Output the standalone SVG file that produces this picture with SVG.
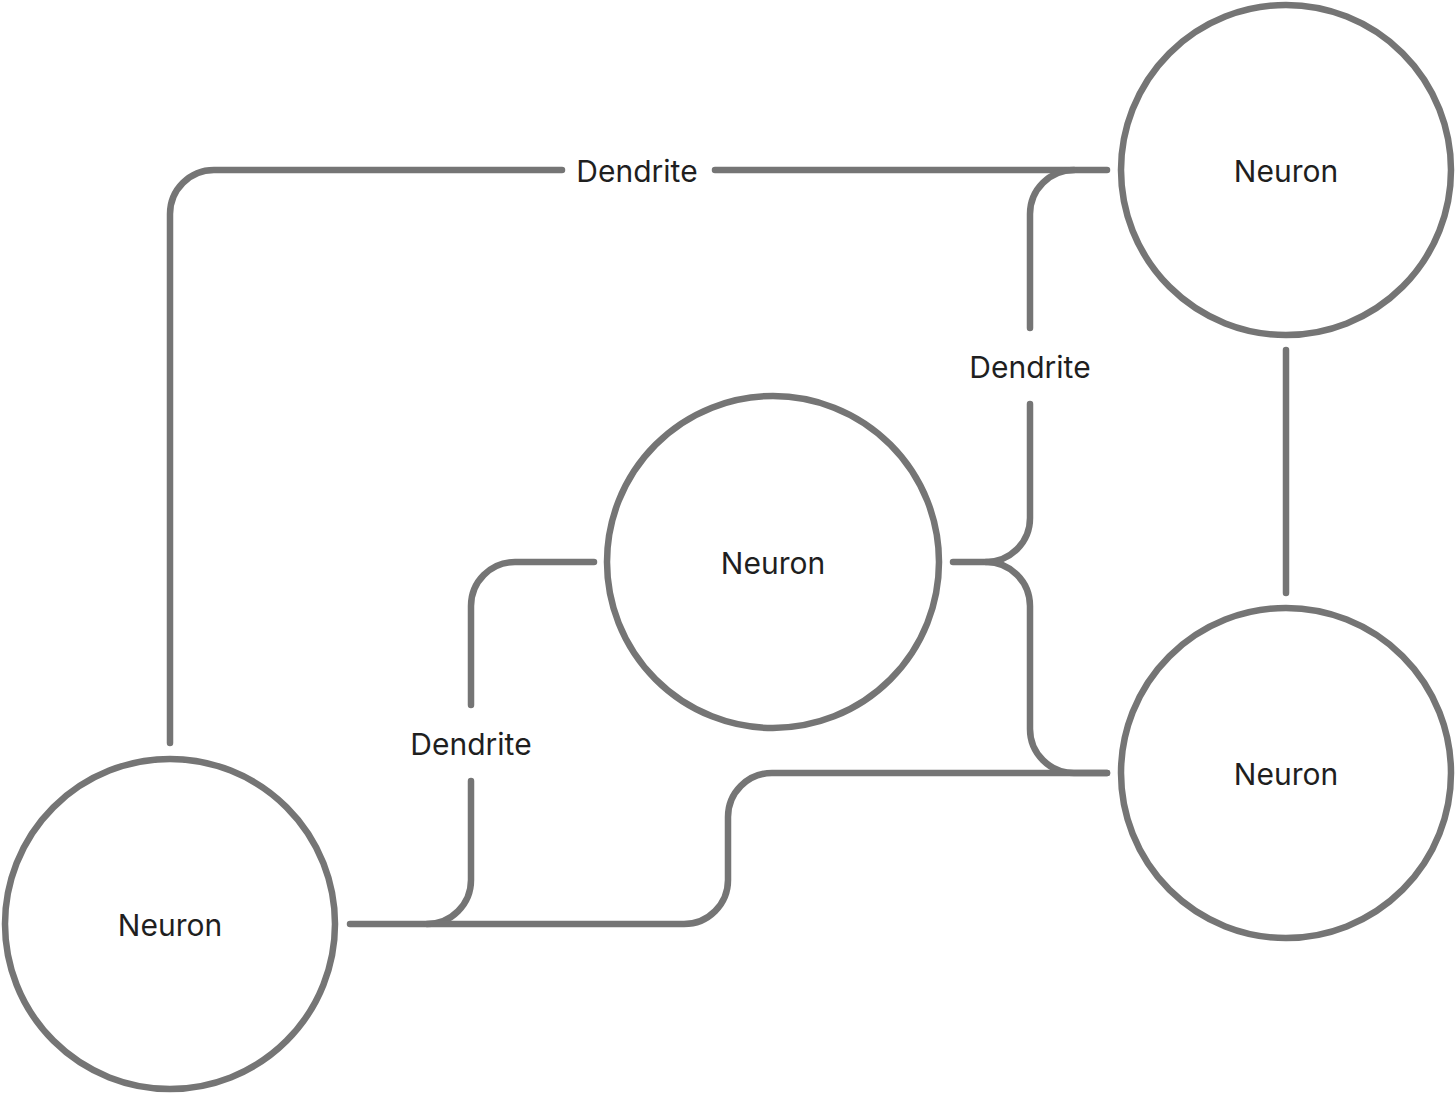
<svg xmlns="http://www.w3.org/2000/svg" width="1456" height="1094" viewBox="0 0 1456 1094">
<style>
.n{fill:#fff;stroke:#757575;stroke-width:6.5}
.c{fill:none;stroke:#757575;stroke-width:6.5;stroke-linecap:round;stroke-linejoin:round}
.t{font-family:Inter,"Liberation Sans",sans-serif;font-size:30px;fill:#1f1f1f;text-anchor:middle;dominant-baseline:central}
</style>
<rect width="1456" height="1094" fill="#fff"/>
<g id="connectors">
<path class="c" d="M170 743 V214 A44 44 0 0 1 214 170 H562"/>
<path class="c" d="M715 170 H1107"/>
<path class="c" d="M1074 170 A44 44 0 0 0 1030 214 V328"/>
<path class="c" d="M1030 404 V518 A44 44 0 0 1 986 562 H953"/>
<path class="c" d="M986 562 A44 44 0 0 1 1030 606 V729 A44 44 0 0 0 1074 773 H1107"/>
<path class="c" d="M1286 350 V593"/>
<path class="c" d="M594 562 H515 A44 44 0 0 0 471 606 V705"/>
<path class="c" d="M471 781 V880 A44 44 0 0 1 427 924 H350"/>
<path class="c" d="M427 924 H684 A44 44 0 0 0 728 880 V817 A44 44 0 0 1 772 773 H1107"/>
<text class="t" x="637" y="171">Dendrite</text>
<text class="t" x="1030" y="367">Dendrite</text>
<text class="t" x="471" y="744">Dendrite</text>
</g>
<g id="neuron-top-right"><circle class="n" cx="1286" cy="170" r="165"/><text class="t" x="1286" y="171">Neuron</text></g>
<g id="neuron-middle"><circle class="n" cx="773" cy="562" r="166"/><text class="t" x="773" y="563">Neuron</text></g>
<g id="neuron-bottom-right"><circle class="n" cx="1286" cy="773" r="165"/><text class="t" x="1286" y="774">Neuron</text></g>
<g id="neuron-bottom-left"><circle class="n" cx="170" cy="924" r="165"/><text class="t" x="170" y="925">Neuron</text></g>
</svg>
